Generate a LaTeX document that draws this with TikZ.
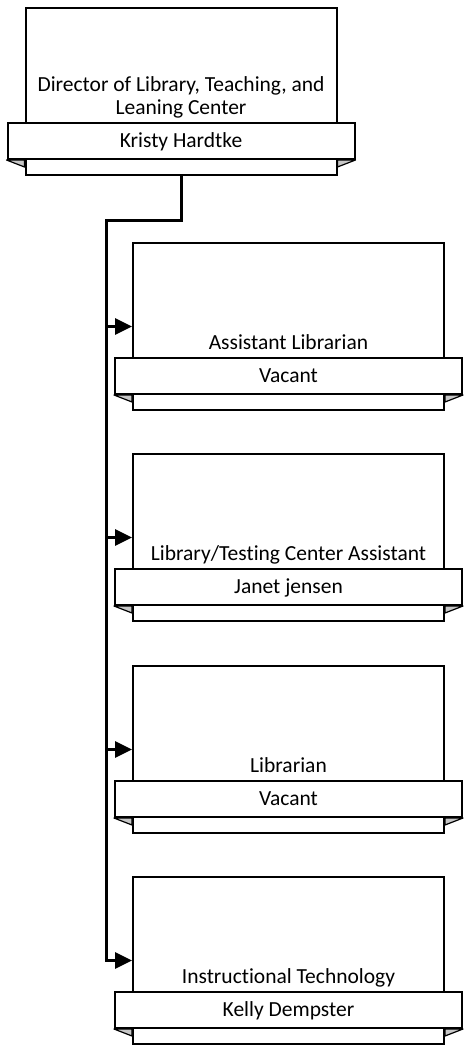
\documentclass[tikz,border=0pt]{standalone}
\usepackage{fontspec}
\setmainfont{Carlito}[Ligatures=NoCommon]
\usetikzlibrary{arrows.meta,positioning}

\begin{document}
\begin{tikzpicture}[x=1pt,y=-1pt,font=\fontsize{21.5}{23.5}\selectfont]
\tikzset{posbox/.style = {shape=rectangle,draw,line width=2pt,fill=white,inner sep=0pt,minimum width=311pt,minimum height=167pt}}
\tikzset{namebar/.style = {shape=rectangle,draw,line width=2pt,fill=white,inner sep=0pt,minimum width=347pt,minimum height=36pt,text height=15pt,text depth=2pt}}
\tikzset{jobtitle/.style = {anchor=south,inner sep=0pt,text depth=0pt,align=center}}
\tikzset{fold/.style = {draw,line width=1.2pt,fill=black!22,line join=round}}
\tikzset{link/.style = {line width=3pt,-{Triangle[length=17pt,width=16pt]}}}

\useasboundingbox (0,0) rectangle (464,1045);

\node[posbox] (b1) at (181,91.5) {};
\node[posbox] (b2) at (288.5,326.5) {};
\node[posbox] (b3) at (288.5,537.5) {};
\node[posbox] (b4) at (288.5,749.5) {};
\node[posbox] (b5) at (288.5,960.5) {};

\node[namebar] (n1) at ([yshift=35pt]b1.south) {Kristy Hardtke};
\node[namebar] (n2) at ([yshift=35pt]b2.south) {Vacant};
\node[namebar] (n3) at ([yshift=35pt]b3.south) {Janet jensen};
\node[namebar] (n4) at ([yshift=35pt]b4.south) {Vacant};
\node[namebar] (n5) at ([yshift=35pt]b5.south) {Kelly Dempster};

% folded ends under each name bar
\foreach \i in {1,...,5}{
  \draw[fold] (n\i.south west) -- (b\i.west |- n\i.south) -- ([yshift=-7pt]b\i.west |- n\i.south) -- cycle;
  \draw[fold] (n\i.south east) -- (b\i.east |- n\i.south) -- ([yshift=-7pt]b\i.east |- n\i.south) -- cycle;
}

\node[jobtitle] (t1) at ([yshift=7pt]n1.north) {Director of Library, Teaching, and\\Leaning Center};
\node[jobtitle] (t2) at ([yshift=7pt]n2.north) {Assistant Librarian};
\node[jobtitle] (t3) at ([yshift=7pt]n3.north) {Library/Testing Center Assistant};
\node[jobtitle] (t4) at ([yshift=7pt]n4.north) {Librarian};
\node[jobtitle] (t5) at ([yshift=7pt]n5.north) {Instructional Technology};

\coordinate (j) at (106,220);

\draw[link] (b1.south) |- (j) |- (b5.west);
\draw[link] (j |- b2.west) -- (b2.west);
\draw[link] (j |- b3.west) -- (b3.west);
\draw[link] (j |- b4.west) -- (b4.west);
\end{tikzpicture}
\end{document}
